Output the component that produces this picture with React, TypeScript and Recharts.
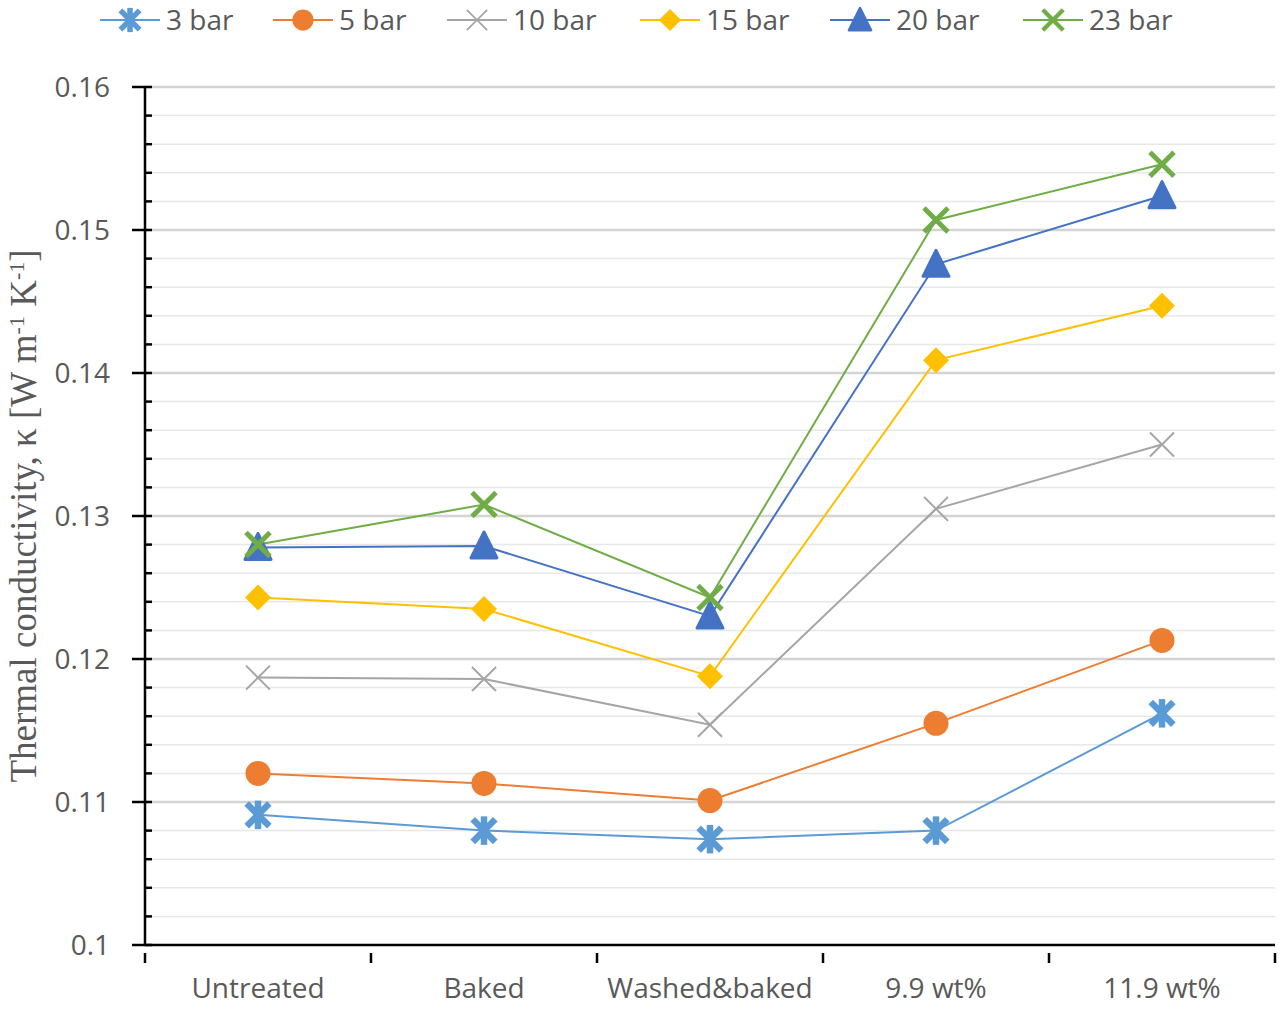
import { LineChart, Line, XAxis, YAxis, ReferenceLine } from 'recharts';

const categories = ['Untreated', 'Baked', 'Washed&baked', '9.9 wt%', '11.9 wt%'];
const bar3 = [0.1091, 0.1080, 0.1074, 0.1080, 0.1162];
const bar5 = [0.1120, 0.1113, 0.1101, 0.1155, 0.1213];
const bar10 = [0.1187, 0.1186, 0.1154, 0.1305, 0.1350];
const bar15 = [0.1243, 0.1235, 0.1188, 0.1409, 0.1447];
const bar20 = [0.1278, 0.1279, 0.1230, 0.1476, 0.1524];
const bar23 = [0.1280, 0.1308, 0.1243, 0.1507, 0.1546];
const majorTicks = [0.1, 0.11, 0.12, 0.13, 0.14, 0.15, 0.16];
const minorTicks = [
  0.102, 0.104, 0.106, 0.108, 0.112, 0.114, 0.116, 0.118, 0.122, 0.124, 0.126, 0.128,
  0.132, 0.134, 0.136, 0.138, 0.142, 0.144, 0.146, 0.148, 0.152, 0.154, 0.156, 0.158,
];

const W = 1280;
const H = 1011;
const LEFT = 145;
const RIGHT = 5;
const TOP = 87;
const XH = 66;
const BAND = (W - LEFT - RIGHT) / categories.length;
const TEXT = '#595959';
const SANS = '"Open Sans", "Noto Sans", sans-serif';

const data = categories.map((name, i) => ({
  name,
  b3: bar3[i],
  b5: bar5[i],
  b10: bar10[i],
  b15: bar15[i],
  b20: bar20[i],
  b23: bar23[i],
}));

type MarkerProps = { cx: number; cy: number; color: string };

const Star = ({ cx, cy, color }: MarkerProps) => (
  <g stroke={color} strokeWidth={6.5} strokeLinecap="square">
    <line x1={cx - 9} y1={cy - 9} x2={cx + 9} y2={cy + 9} />
    <line x1={cx - 9} y1={cy + 9} x2={cx + 9} y2={cy - 9} />
    <line x1={cx} y1={cy - 11} x2={cx} y2={cy + 11} />
  </g>
);
const Circle = ({ cx, cy, color }: MarkerProps) => <circle cx={cx} cy={cy} r={12.5} fill={color} />;
const Cross = ({ cx, cy, color }: MarkerProps) => (
  <g stroke={color} strokeWidth={2}>
    <line x1={cx - 12} y1={cy - 12} x2={cx + 12} y2={cy + 12} />
    <line x1={cx - 12} y1={cy + 12} x2={cx + 12} y2={cy - 12} />
  </g>
);
const Diamond = ({ cx, cy, color }: MarkerProps) => (
  <path d={`M${cx},${cy - 13}L${cx + 13},${cy}L${cx},${cy + 13}L${cx - 13},${cy}Z`} fill={color} />
);
const Triangle = ({ cx, cy, color }: MarkerProps) => (
  <path
    d={`M${cx},${cy - 14}L${cx + 13},${cy + 12}L${cx - 13},${cy + 12}Z`}
    fill={color}
    stroke={color}
    strokeWidth={3}
    strokeLinejoin="round"
  />
);
const BoldX = ({ cx, cy, color }: MarkerProps) => (
  <g stroke={color} strokeWidth={5}>
    <line x1={cx - 12} y1={cy - 12} x2={cx + 12} y2={cy + 12} />
    <line x1={cx - 12} y1={cy + 12} x2={cx + 12} y2={cy - 12} />
  </g>
);

const series = [
  { key: 'b3', name: '3 bar', color: '#5B9BD5', Marker: Star },
  { key: 'b5', name: '5 bar', color: '#ED7D31', Marker: Circle },
  { key: 'b10', name: '10 bar', color: '#A5A5A5', Marker: Cross },
  { key: 'b15', name: '15 bar', color: '#FFC000', Marker: Diamond },
  { key: 'b20', name: '20 bar', color: '#4472C4', Marker: Triangle },
  { key: 'b23', name: '23 bar', color: '#70AD47', Marker: BoldX },
];

const isMajor = (v: number) => majorTicks.some((m) => Math.abs(m - v) < 1e-9);

const YTick = ({ y, payload }: any) => {
  const major = isMajor(payload.value);
  return (
    <g>
      <line x1={major ? LEFT - 13 : LEFT} x2={LEFT + 7} y1={y} y2={y} stroke="#000" strokeWidth={2.5} />
      {major && (
        <text x={LEFT - 35} y={y} dy={10} textAnchor="end" fontSize={28} fill={TEXT} fontFamily={SANS}>
          {payload.value === 0.1 ? '0.1' : payload.value.toFixed(2)}
        </text>
      )}
    </g>
  );
};

const XTick = ({ x, y, payload, index }: any) => (
  <g>
    <line x1={x - BAND / 2} x2={x - BAND / 2} y1={y} y2={y + 10} stroke="#000" strokeWidth={2.5} />
    {index === categories.length - 1 && (
      <line x1={x + BAND / 2} x2={x + BAND / 2} y1={y} y2={y + 10} stroke="#000" strokeWidth={2.5} />
    )}
    <text x={x} y={y + 45} textAnchor="middle" fontSize={28} fill={TEXT} fontFamily={SANS}>
      {payload.value}
    </text>
  </g>
);

const legendX = [100, 273, 447, 640, 830, 1023];

const LegendBar = () => (
  <svg width={W} height={45} style={{ position: 'absolute', left: 0, top: 0 }}>
    {series.map((s, i) => {
      const x = legendX[i];
      const M = s.Marker;
      return (
        <g key={s.key}>
          <line x1={x} x2={x + 60} y1={20} y2={20} stroke={s.color} strokeWidth={2} />
          <g transform={`translate(${x + 30},20) scale(0.85) translate(${-(x + 30)},-20)`}>
            <M cx={x + 30} cy={20} color={s.color} />
          </g>
          <text x={x + 66} y={30} fontSize={28} fill={TEXT} fontFamily={SANS}>
            {s.name}
          </text>
        </g>
      );
    })}
  </svg>
);

export default function App() {
  return (
    <div style={{ position: 'absolute', left: 0, top: 0, width: W, height: H, background: '#fff' }}>
      <LineChart width={W} height={H} data={data} margin={{ top: TOP, right: RIGHT, bottom: 0, left: 0 }}>
        {minorTicks.map((v) => (
          <ReferenceLine key={v} y={v} stroke="#e8e8e8" strokeWidth={1.5} />
        ))}
        {majorTicks.slice(1).map((v) => (
          <ReferenceLine key={v} y={v} stroke="#d4d4d4" strokeWidth={2.5} />
        ))}
        <XAxis
          dataKey="name"
          scale="band"
          height={XH}
          axisLine={{ stroke: '#000', strokeWidth: 2.5 }}
          tickLine={false}
          tick={<XTick />}
          interval={0}
        />
        <YAxis
          domain={[0.1, 0.16]}
          ticks={[...majorTicks, ...minorTicks].sort((a, b) => a - b)}
          width={LEFT}
          interval={0}
          axisLine={{ stroke: '#000', strokeWidth: 2.5 }}
          tickLine={false}
          tick={<YTick />}
        />
        {series.map((s) => (
          <Line
            key={s.key}
            dataKey={s.key}
            name={s.name}
            stroke={s.color}
            strokeWidth={2}
            isAnimationActive={false}
            dot={(p: any) => <s.Marker key={`${s.key}-${p.index}`} cx={p.cx} cy={p.cy} color={s.color} />}
            activeDot={false}
          />
        ))}
        <text
          transform={`translate(36, ${(TOP + H - XH) / 2}) rotate(-90)`}
          textAnchor="middle"
          fontSize={37}
          fill={TEXT}
          fontFamily='"Liberation Serif", serif'
        >
          Thermal conductivity, κ [W m<tspan baselineShift="super" fontSize={22}>-1</tspan> K
          <tspan baselineShift="super" fontSize={22}>-1</tspan>]
        </text>
      </LineChart>
      <LegendBar />
    </div>
  );
}
